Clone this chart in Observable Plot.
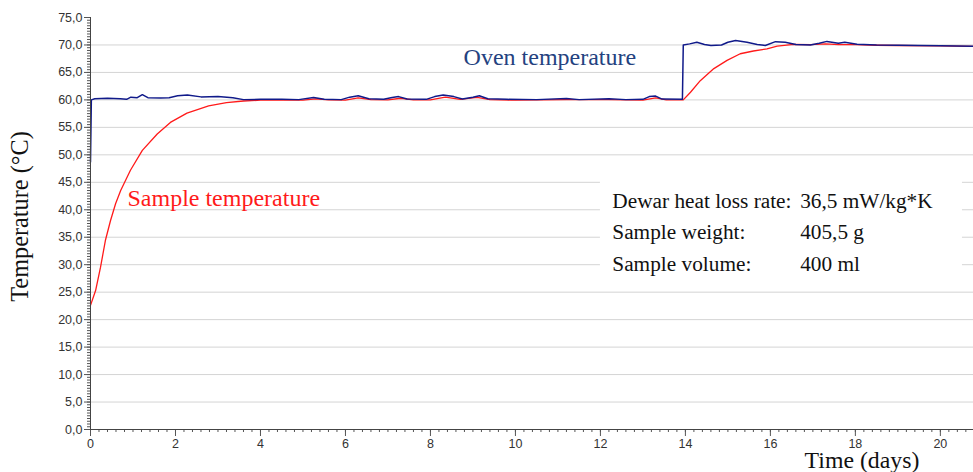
<!DOCTYPE html>
<html>
<head>
<meta charset="utf-8">
<script src="https://cdn.jsdelivr.net/npm/d3@7"></script>
<script src="https://cdn.jsdelivr.net/npm/@observablehq/plot@0.6"></script>
<style>
  html, body { margin: 0; padding: 0; background: #fff; }
  #chart svg { display: block; }
</style>
</head>
<body>
<div id="chart"></div>
<script>
// ---- data ----
const ovenDays = [0, 0.02, 0.1, 0.4, 0.7, 0.85, 0.95, 1.1, 1.22, 1.35, 1.65, 1.85, 2.05, 2.28, 2.6, 3.0, 3.35, 3.6, 4.0, 4.5, 4.9, 5.25, 5.5, 5.9, 6.1, 6.3, 6.55, 6.9, 7.1, 7.25, 7.45, 7.9, 8.1, 8.3, 8.55, 8.75, 9.0, 9.15, 9.35, 9.8, 10.5, 11.2, 11.5, 12.2, 12.6, 13.0, 13.15, 13.3, 13.45, 13.93, 13.95, 14.1, 14.27, 14.45, 14.6, 14.85, 15.0, 15.18, 15.45, 15.69, 15.88, 16.12, 16.35, 16.6, 16.94, 17.15, 17.33, 17.6, 17.75, 18.04, 18.5, 19.0, 19.5, 20.0, 20.78];
const ovenTemps = [48.7, 60.0, 60.2, 60.3, 60.2, 60.1, 60.5, 60.4, 60.95, 60.4, 60.35, 60.4, 60.75, 60.9, 60.55, 60.6, 60.4, 60.05, 60.1, 60.1, 60.05, 60.45, 60.1, 60.05, 60.5, 60.75, 60.2, 60.1, 60.45, 60.6, 60.15, 60.1, 60.6, 60.9, 60.6, 60.15, 60.5, 60.75, 60.2, 60.1, 60.05, 60.25, 60.05, 60.2, 60.05, 60.1, 60.6, 60.7, 60.15, 60.1, 70.0, 70.2, 70.5, 70.1, 69.9, 70.0, 70.5, 70.8, 70.5, 70.1, 69.9, 70.6, 70.5, 70.1, 70.0, 70.3, 70.65, 70.3, 70.5, 70.15, 70.0, 69.95, 69.9, 69.85, 69.75];

const sampleDays = [0, 0.12, 0.235, 0.35, 0.47, 0.59, 0.71, 0.94, 1.22, 1.57, 1.88, 2.27, 2.78, 3.2, 3.6, 4.0, 4.5, 5.0, 5.3, 5.6, 6.0, 6.3, 6.6, 7.0, 7.3, 7.6, 8.0, 8.35, 8.7, 9.1, 9.4, 10.0, 11.2, 12.2, 13.0, 13.3, 13.55, 13.95, 14.12, 14.35, 14.67, 14.98, 15.29, 15.6, 15.92, 16.16, 16.55, 16.94, 17.3, 17.6, 18.0, 18.5, 19.0, 20.0, 20.78];
const sampleTemps = [22.6, 25.3, 29.5, 34.4, 38.0, 41.1, 43.5, 47.2, 50.8, 53.8, 55.9, 57.6, 58.9, 59.5, 59.8, 59.95, 60.0, 59.95, 60.2, 60.0, 59.95, 60.35, 60.05, 60.0, 60.3, 60.0, 60.0, 60.5, 60.1, 60.45, 60.05, 59.95, 60.05, 60.05, 59.95, 60.35, 60.0, 60.0, 61.4, 63.5, 65.7, 67.2, 68.4, 68.9, 69.3, 69.8, 70.1, 70.05, 70.2, 70.05, 70.05, 69.95, 69.9, 69.85, 69.75];

const xMajorTicks = d3.range(0, 21, 2);
const xMinorTicks = d3.range(0, 20.8, 0.2);
const yMajorTicks = d3.range(0, 76, 5);
const yMinorTicks = d3.range(0, 75.1, 0.5);
const yGrid = d3.range(5, 75, 5);

const xTitle = "Time (days)";
const yTitle = "Temperature (°C)";
const ovenLabel = "Oven temperature";
const sampleLabel = "Sample temperature";
const infoKeys = ["Dewar heat loss rate:", "Sample weight:", "Sample volume:"];
const infoValues = ["36,5 mW/kg*K", "405,5 g", "400 ml"];

// annotation anchors (data coordinates)
const infoKeyX = 12.28, infoValX = 16.7;
const infoRowsY = [40.35, 34.7, 28.9];
const infoBox = {x1: 12.0, x2: 20.52, y1: 26.6, y2: 45.8};

const oven = ovenDays.map((d, i) => ({day: d, temp: ovenTemps[i]}));
const sample = sampleDays.map((d, i) => ({day: d, temp: sampleTemps[i]}));
const info = infoKeys.map((k, i) => ({key: k, value: infoValues[i], y: infoRowsY[i]}));

const serif = "Liberation Serif, Times New Roman, serif";
const fmt = d => d.toFixed(1).replace(".", ",");

const chart = Plot.plot({
  width: 973,
  height: 472,
  marginLeft: 90,
  marginRight: 0,
  marginTop: 17,
  marginBottom: 43,
  style: {fontFamily: "Liberation Sans, Arial, sans-serif", fontSize: "12.5px", color: "#333", background: "#fff"},
  x: {domain: [0, 20.78], label: null},
  y: {domain: [0, 75], label: null},
  marks: [
    Plot.gridY(yGrid, {stroke: "#d4d4d4", strokeOpacity: 1, strokeWidth: 1}),
    Plot.rect([infoBox], {x1: "x1", x2: "x2", y1: "y1", y2: "y2", fill: "#fff"}),
    Plot.line(sample, {x: "day", y: "temp", stroke: "#ff1a1a", strokeWidth: 1.3}),
    Plot.line(oven, {x: "day", y: "temp", stroke: "#101a8a", strokeWidth: 1.5}),
    Plot.axisY(yMinorTicks, {tickSize: 3, tickFormat: () => "", stroke: "#555"}),
    Plot.axisY(yMajorTicks, {tickSize: 6, tickPadding: 2, tickFormat: fmt, stroke: "#555", fill: "#333"}),
    Plot.axisX(xMinorTicks, {tickSize: 3, tickFormat: () => "", stroke: "#555"}),
    Plot.axisX(xMajorTicks, {tickSize: 7, tickPadding: 3, tickFormat: d => String(d), stroke: "#555", fill: "#333"}),
    Plot.ruleX([0], {stroke: "#444"}),
    Plot.ruleY([0], {stroke: "#444"}),
    Plot.text([ovenLabel], {x: 8.78, y: 66.3, text: d => d, textAnchor: "start", lineAnchor: "bottom", fill: "#24427f", fontSize: 24, fontFamily: serif}),
    Plot.text([sampleLabel], {x: 0.87, y: 40.6, text: d => d, textAnchor: "start", lineAnchor: "bottom", fill: "#ff1a1a", fontSize: 24, fontFamily: serif}),
    Plot.text(info, {x: infoKeyX, y: "y", text: "key", textAnchor: "start", lineAnchor: "bottom", fill: "#111", fontSize: 21.3, fontFamily: serif}),
    Plot.text(info, {x: infoValX, y: "y", text: "value", textAnchor: "start", lineAnchor: "bottom", fill: "#111", fontSize: 21.3, fontFamily: serif}),
    Plot.text([yTitle], {frameAnchor: "left", dx: -70, dy: -7, rotate: -90, text: d => d, textAnchor: "middle", lineAnchor: "middle", fill: "#111", fontSize: 24.3, fontFamily: serif}),
    Plot.text([xTitle], {frameAnchor: "bottom", dx: 330, dy: 38, text: d => d, textAnchor: "middle", lineAnchor: "bottom", fill: "#111", fontSize: 23.8, fontFamily: serif})
  ]
});
document.getElementById("chart").append(chart);
</script>
</body>
</html>
